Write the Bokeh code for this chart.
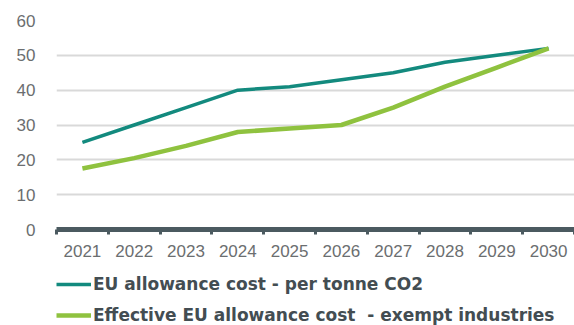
from bokeh.plotting import figure
from bokeh.models import FixedTicker, Legend, LegendItem, Range1d
from bokeh.layouts import column
from bokeh.embed import file_html
from bokeh.resources import INLINE

years = ["2021", "2022", "2023", "2024", "2025", "2026", "2027", "2028", "2029", "2030"]
eu_allowance = [25, 30, 35, 40, 41, 43, 45, 48, 50, 52]
effective_exempt = [17.5, 20.5, 24, 28, 29, 30, 35, 41, 46.5, 52]
y_ticks = [0, 10, 20, 30, 40, 50, 60]
series_names = ["EU allowance cost - per tonne CO2",
                "Effective EU allowance cost  - exempt industries"]
colors = ["#138a7e", "#8fc23f"]
widths = [3.5, 4.5]

x = [i + 0.5 for i in range(len(years))]

p = figure(width=574, height=265, output_backend="svg", toolbar_location=None,
           x_range=Range1d(0, len(years)), y_range=Range1d(0, 60),
           min_border_left=56, min_border_right=0, min_border_top=20,
           min_border_bottom=36)
p.outline_line_color = None
p.background_fill_color = "white"
p.border_fill_color = "white"

p.line(x, eu_allowance, line_color=colors[0], line_width=widths[0])
p.line(x, effective_exempt, line_color=colors[1], line_width=widths[1])

# x axis
xa = p.xaxis[0]
xa.ticker = FixedTicker(ticks=x, minor_ticks=list(range(len(years) + 1)))
xa.major_label_overrides = {xi: y for xi, y in zip(x, years)}
xa.major_tick_line_color = None
xa.major_tick_out = 0
xa.major_tick_in = 0
xa.minor_tick_line_color = "#4b5a60"
xa.minor_tick_line_width = 3
xa.minor_tick_out = 5
xa.minor_tick_in = 0
xa.axis_line_color = "#4b5a60"
xa.axis_line_width = 5
xa.major_label_text_font = "Liberation Sans"
xa.major_label_text_font_size = "17px"
xa.major_label_text_color = "#6b6e70"
xa.major_label_standoff = 10

# y axis
ya = p.yaxis[0]
ya.ticker = FixedTicker(ticks=y_ticks)
ya.axis_line_color = None
ya.major_tick_line_color = None
ya.minor_tick_line_color = None
ya.major_label_text_font = "Liberation Sans"
ya.major_label_text_font_size = "17px"
ya.major_label_text_color = "#6b6e70"
ya.major_label_standoff = 15

p.xgrid.grid_line_color = None
p.ygrid.ticker = FixedTicker(ticks=y_ticks)
p.ygrid.grid_line_color = "#d9d9d9"
p.ygrid.grid_line_width = 2

# legend strip below the chart (series drawn off-view, only legend glyphs show)
p2 = figure(width=574, height=60, output_backend="svg", toolbar_location=None,
            x_axis_location=None, y_axis_location=None,
            x_range=Range1d(-1000, -999), y_range=Range1d(-1000, -999),
            min_border_left=0, min_border_right=0, min_border_top=0,
            min_border_bottom=0)
p2.outline_line_color = None
p2.grid.grid_line_color = None
l1 = p2.line(x, eu_allowance, line_color=colors[0], line_width=widths[0])
l2 = p2.line(x, effective_exempt, line_color=colors[1], line_width=widths[1])
legend = Legend(items=[LegendItem(label=series_names[0], renderers=[l1]),
                       LegendItem(label=series_names[1], renderers=[l2])],
                location=(0, 0), orientation="vertical",
                glyph_width=35, glyph_height=20, label_height=20,
                label_standoff=2, spacing=11, padding=0, margin=0,
                border_line_color=None, background_fill_alpha=0,
                label_text_font="DejaVu Sans", label_text_font_size="17px",
                label_text_font_style="bold", label_text_color="#434d52")
p2.add_layout(legend, "center")

layout = column(p, p2, spacing=0)
open("out.html", "w").write(file_html(layout, INLINE))
